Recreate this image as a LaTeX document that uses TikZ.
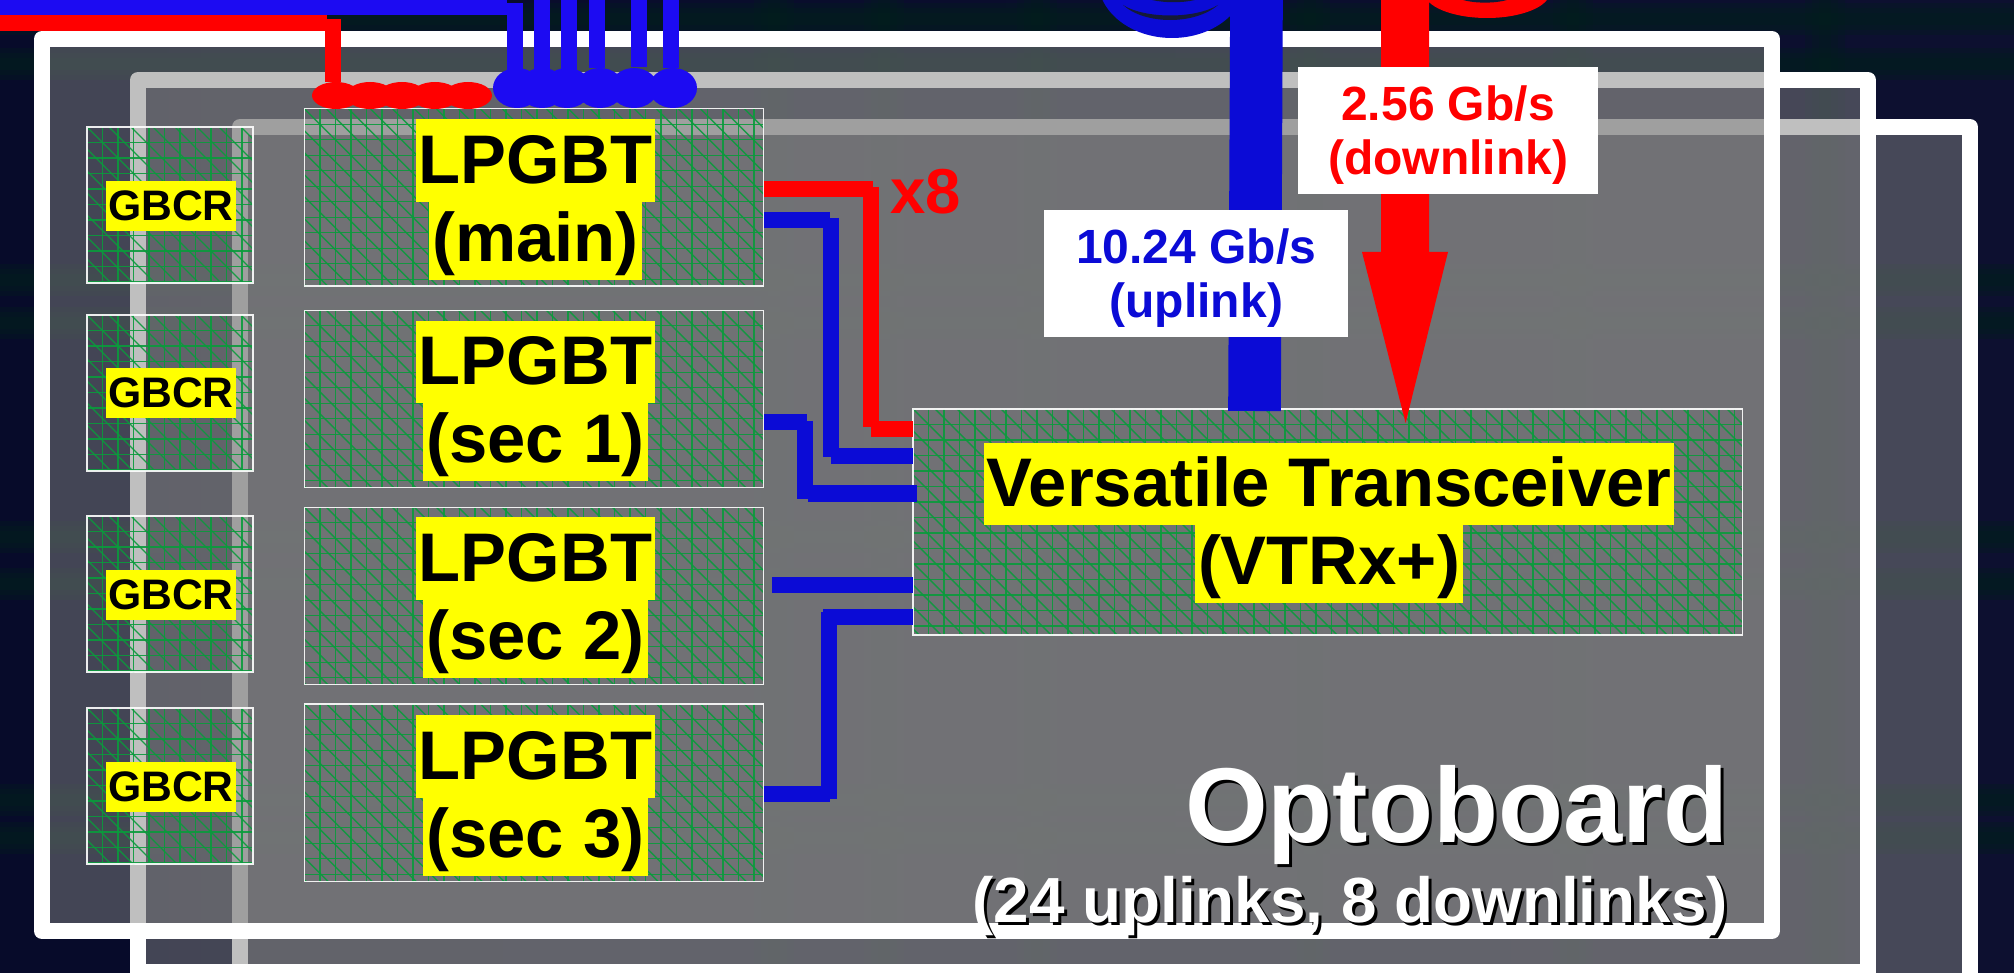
\documentclass[tikz,border=0pt]{standalone}
\usepackage{fontspec}
\setmainfont{Liberation Sans}
\usetikzlibrary{shapes.geometric}
\definecolor{bgleft}{HTML}{070B2A}
\definecolor{bgright}{HTML}{0D1030}
\definecolor{bgteal}{HTML}{02201C}
\definecolor{crescent}{HTML}{141A38}
\definecolor{brightblue}{HTML}{1C0BF2}
\definecolor{deepblue}{HTML}{0B0BD6}
\definecolor{gridgreen}{HTML}{0A9B3C}
\definecolor{hlyellow}{RGB}{255,255,0}
\setlength{\fboxsep}{0pt}
\setlength{\lineskiplimit}{-100pt}
\newcommand{\hlt}[1]{\colorbox{hlyellow}{\rule[-.265em]{0pt}{1.195em}\kern.045em #1\kern.045em}}
\newcommand{\ratestrut}{\rule{0pt}{.92em}}
\tikzset{
  board/.style={draw=white,line width=12pt,line join=round,fill=gray,fill opacity=.5,draw opacity=1},
  chip/.style 2 args={draw=white,draw opacity=.9,line width=1pt,inner sep=0pt,outer sep=0pt,
    path picture={
      \foreach \k in {1,...,54}{\draw[gridgreen,line width=1pt] (15.5*\k-#1,-#2) -- ++(0,240);}
      \foreach \k in {1,...,15}{\draw[gridgreen,line width=1pt] (-#1,15.5*\k-#2) -- ++(840,0);}
      \foreach \k in {-11,...,38}{\draw[gridgreen,line width=1pt] (22*\k-#1,-#2) -- ++(240,240);}
    }},
  gbcrbox/.style={chip={83}{78},minimum width=124.5pt,minimum height=117pt},
  lpgbtbox/.style={chip={229.7}{88.7},minimum width=344.5pt,minimum height=133pt},
  vtrxbox/.style={chip={414.7}{113},minimum width=622pt,minimum height=169.5pt},
  chiptext/.style={inner sep=0pt,align=center,font=\bfseries\fontsize{51.6}{58.5}\selectfont},
  gbcrtext/.style={inner sep=0pt,font=\bfseries\fontsize{32}{36}\selectfont},
  ratebox/.style={fill=white,inner sep=0pt,align=center,minimum height=95.25pt,
    font=\bfseries\fontsize{36}{40.5}\selectfont},
  wire/.style={line width=12pt,line cap=butt},
  redblob/.style={ellipse,fill=red,inner sep=0pt,minimum width=36pt,minimum height=20.25pt},
  blueblob/.style={ellipse,fill=brightblue,inner sep=0pt,minimum width=36pt,minimum height=30pt},
  bigtext/.style={inner sep=0pt,anchor=base east,font=\bfseries\fontsize{79.8}{90}\selectfont},
  subtext/.style={inner sep=0pt,anchor=base east,font=\bfseries\fontsize{47.85}{54}\selectfont}
}
\begin{document}
\begin{tikzpicture}[x=.75pt,y=-.75pt]
\useasboundingbox (0,0) rectangle (2014,973);
\clip (0,0) rectangle (2014,973);
% background with its faint lattice of bands
\shade[left color=bgleft,right color=bgright] (0,0) rectangle (2014,973);
\foreach \y in {19,64,280,323,537,584,800,838}{
  \foreach \h in {16,11,6}{\fill[bgteal,opacity=.3] (0,\y-\h) rectangle (2014,\y+\h);}}
\foreach \x in {774,884,1037,1310,1573,1825}{
  \foreach \h in {20,13,6}{\fill[bgteal,opacity=.22] (\x-\h,0) rectangle (\x+\h,973);}}
% boards
\path[board] (240,127) rectangle (1970,1019);
\path[board] (138,80) rectangle (1868,972);
\path[board] (42,39) rectangle (1772,931);
% curls at top
\fill[deepblue] (1172,-20) ellipse [x radius=74,y radius=58];
\fill[crescent] (1123,5) .. controls (1145,25) and (1195,25) .. (1218,5) .. controls (1195,19) and (1145,19) .. cycle;
\fill[crescent] (1152,0) .. controls (1165,3) and (1182,3) .. (1195,0) -- cycle;
\fill[red] (1487,-8) ellipse [x radius=63,y radius=26];
\fill[crescent] (1463,0) .. controls (1475,3.5) and (1495,3.5) .. (1507,0) -- cycle;
% chips
\node[gbcrbox] (g1) at (170,205) {};
\node[gbcrbox] (g2) at (170,393) {};
\node[gbcrbox] (g3) at (170,594) {};
\node[gbcrbox] (g4) at (170,786) {};
\node[lpgbtbox] (lm) at (534.1,197.5) {};
\node[lpgbtbox] (l1) at (534.1,399) {};
\node[lpgbtbox] (l2) at (534.1,596) {};
\node[lpgbtbox] (l3) at (534.1,792.5) {};
\node[vtrxbox] (vt) at (1327.8,522) {};
% free ends above the picture
\coordinate (topblue) at (0,7.5);
\coordinate (topred) at (0,23);
\coordinate (b1) at (515,3);
\coordinate (b2) at (542,0);
\coordinate (b3) at (569,0);
\coordinate (b4) at (596.5,0);
\coordinate (b5) at (639,0);
\coordinate (b6) at (670.5,0);
% connection blobs
\foreach \n/\x in {1/336,2/370,3/402,4/435,5/468}{\node[redblob] (r\n) at (\x,95.5) {};}
\foreach \n/\x in {1/517,2/542,3/567,4/600,5/634,6/673}{\node[blueblob] (u\n) at (\x,88) {};}
% fan-in wires
\draw[brightblue,line width=11.25pt] (topblue) -- (507,7.5);
\draw[red,line width=11.75pt] (topred) -- (327,23);
\draw[red,wire] (333,19) -- (r1.north -| 333,0);
\draw[brightblue,wire] (b1) -- (b1 |- u1.center);
\draw[brightblue,wire] (b2) -- (b2 |- u2.center);
\draw[brightblue,wire] (b3) -- (b3 |- u3.center);
\draw[brightblue,wire] (b4) -- (b4 |- 0,68);
\draw[brightblue,wire] (b5) -- (b5 |- 0,67);
\draw[brightblue,wire] (b6) -- (b6 |- 0,68);
% lpGBT to VTRx wires
\draw[red,wire] (lm.east |- 0,189) -- (873,189) (871,187) -- (871,427) (871,429) -- (vt.west |- 0,429);
\draw[deepblue,wire] (lm.east |- 0,220) -- (830,220) (830.5,218) -- (830.5,457) (831,456) -- (vt.west |- 0,456);
\draw[deepblue,wire] (l1.east |- 0,422) -- (807,422) (805,421) -- (805,499) (808,493.5) -- (917,493.5);
\draw[deepblue,wire] (772,585) -- (vt.west |- 0,585);
\draw[deepblue,wire] (l3.east |- 0,793.5) -- (830,793.5) (829,799) -- (829,612) (823,617) -- (vt.west |- 0,617);
% thick links
\draw[deepblue,line width=39.5pt,line cap=butt] (1256.5,0) -- (1254.5,411);
\fill[red] (1381,0) -- (1429,0) -- (1429,252) -- (1448,252) -- (1405.6,423) -- (1362,252) -- (1381,252) -- cycle;
% labels
\node[ratebox,text=red,minimum width=225pt] (down) at (1448,130.5) {\ratestrut 2.56 Gb/s\\(downlink)};
\node[ratebox,text=deepblue,minimum width=228pt] (up) at (1196.3,273.5) {\ratestrut 10.24 Gb/s\\(uplink)};
\node[text=red,inner sep=0pt,anchor=base west,font=\bfseries\fontsize{47.6}{54}\selectfont] (xeight) at (890,214) {x8};
\foreach \n/\y in {g1/206,g2/393,g3/595,g4/787}{\node[gbcrtext] (\n t) at (171,\y) {\hlt{GBCR}};}
\node[chiptext] (lmt) at (535.5,199.5) {\hlt{LPGBT}\\\hlt{(main)}};
\node[chiptext] (l1t) at (535.5,401) {\hlt{LPGBT}\\\hlt{(sec 1)}};
\node[chiptext] (l2t) at (535.5,597.5) {\hlt{LPGBT}\\\hlt{(sec 2)}};
\node[chiptext] (l3t) at (535.5,795.5) {\hlt{LPGBT}\\\hlt{(sec 3)}};
\node[chiptext] (vtt) at (1329,523) {\hlt{Versatile Transceiver}\\\hlt{(VTRx+)}};
\node[bigtext,text=black] (optos) at (1732,845) {Optoboard};
\node[bigtext,text=white] (opto) at (1729,842) {Optoboard};
\node[subtext,text=black] (subs) at (1731,925) {(24 uplinks, 8 downlinks)};
\node[subtext,text=white] (sub) at (1728,922) {(24 uplinks, 8 downlinks)};
\end{tikzpicture}
\end{document}
